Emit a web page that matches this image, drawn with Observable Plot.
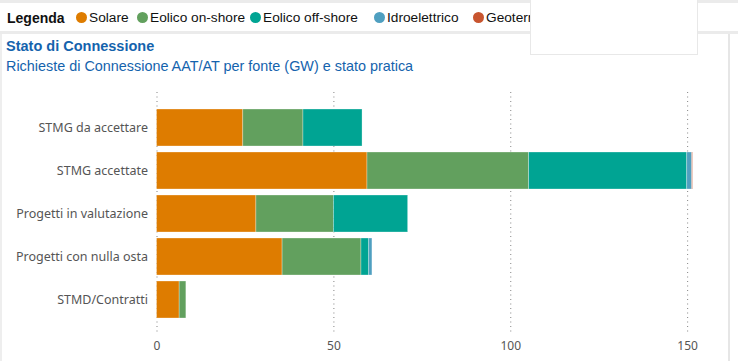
<!DOCTYPE html>
<html>
<head>
<meta charset="utf-8">
<script src="https://cdn.jsdelivr.net/npm/d3@7"></script>
<script src="https://cdn.jsdelivr.net/npm/@observablehq/plot@0.6"></script>
<style>
  html, body { margin: 0; padding: 0; background: #fff; width: 738px; height: 361px; overflow: hidden; }
  #root { position: relative; width: 738px; height: 361px; }
  #topstrip { position: absolute; left: 0; top: 0; width: 738px; height: 3px; background: #ebebeb; }
  #legend { position: absolute; left: 0; top: 3px; width: 738px; height: 28px; background: #fff;
    font-family: "Liberation Sans", Arial, sans-serif; font-size: 13.7px; color: #111; white-space: nowrap; overflow: hidden; }
  #legend .lab { position: absolute; left: 7px; top: 7px; font-weight: bold; font-size: 14px; }
  #legend .item { position: absolute; top: 7px; }
  #legend .dot { display: inline-block; width: 11px; height: 11px; border-radius: 50%; margin-right: 2px; vertical-align: -1px; }
  #sep { position: absolute; left: 0; top: 31px; width: 738px; height: 3px; background: #ebebeb; }
  #panel { position: absolute; left: 0; top: 34px; width: 730px; height: 327px; border-left: 2px solid #eeeeee; border-right: 2px solid #e6e6e6; box-sizing: border-box; }
  #title { position: absolute; left: 6px; top: 38px; font-family: "Liberation Sans", Arial, sans-serif; font-size: 14.5px; font-weight: bold; color: #1463ad; }
  #subtitle { position: absolute; left: 6px; top: 58px; font-family: "Liberation Sans", Arial, sans-serif; font-size: 14.4px; color: #1463ad; }
  #chart { position: absolute; left: 0; top: 80px; }
  #box { position: absolute; left: 530px; top: 0; width: 168px; height: 55px; background: #fff; border: 1px solid #e8e8e8; border-top: none; box-sizing: border-box; }
</style>
</head>
<body>
<div id="root">
  <div id="topstrip"></div>
  <div id="legend"><span class="lab">Legenda</span></div>
  <div id="sep"></div>
  <div id="panel"></div>
  <div id="title">Stato di Connessione</div>
  <div id="subtitle">Richieste di Connessione AAT/AT per fonte (GW) e stato pratica</div>
  <div id="chart"></div>
  <div id="box"></div>
</div>
<script>
const categories = ["STMG da accettare", "STMG accettate", "Progetti in valutazione", "Progetti con nulla osta", "STMD/Contratti"];
const fonti = ["Solare", "Eolico on-shore", "Eolico off-shore", "Idroelettrico", "Geotermico"];
const colori = ["#de7c00", "#62a05e", "#00a493", "#4f9fc0", "#c8552f"];
const solare   = [24.4, 59.5, 28.1, 35.5, 6.4];
const onshore  = [17.0, 45.7, 21.9, 22.3, 1.9];
const offshore = [16.7, 44.7, 21.0, 2.2, 0];
const idro     = [0, 1.4, 0, 0.9, 0];
const geo      = [0, 0.2, 0, 0, 0];
const xTicks = [0, 50, 100, 150];

const series = [solare, onshore, offshore, idro, geo];
const data = [];
categories.forEach((c, i) => {
  fonti.forEach((f, j) => {
    if (series[j][i] > 0) data.push({stato: c, fonte: f, value: series[j][i]});
  });
});

// legend
const legendItemsX = [76, 137, 250, 374, 473];
const legend = document.getElementById("legend");
fonti.forEach((f, j) => {
  const s = document.createElement("span");
  s.className = "item";
  s.style.left = legendItemsX[j] + "px";
  s.innerHTML = `<span class="dot" style="background:${colori[j]}"></span>${f}`;
  legend.appendChild(s);
});

const chart = Plot.plot({
  width: 738,
  height: 281,
  marginLeft: 156.5,
  marginRight: 15.5,
  marginTop: 12,
  marginBottom: 26,
  style: {fontFamily: "'Noto Sans', 'Open Sans', sans-serif", fontSize: "12px", color: "#555", background: "transparent"},
  x: {domain: [0, 160], ticks: xTicks, tickSize: 0, tickPadding: 6, label: null},
  y: {domain: categories, paddingInner: 0.13, paddingOuter: 0.355, tickSize: 0, tickPadding: 9, label: null},
  color: {domain: fonti, range: colori},
  marks: [
    Plot.gridX(xTicks, {stroke: "#777", strokeOpacity: 0.9, strokeDasharray: "1,3.5", strokeWidth: 1}),
    Plot.barX(data, {x: "value", y: "stato", fill: "fonte", stroke: "#ffffff", strokeWidth: 0.6, strokeOpacity: 0.5}),
    Plot.axisX({ticks: xTicks, tickSize: 0, tickPadding: 6, fontSize: 12, fill: "#555", label: null}),
    Plot.axisY({tickSize: 0, tickPadding: 9, fontSize: 12.5, fill: "#555", label: null})
  ]
});
document.getElementById("chart").appendChild(chart);
</script>
</body>
</html>
